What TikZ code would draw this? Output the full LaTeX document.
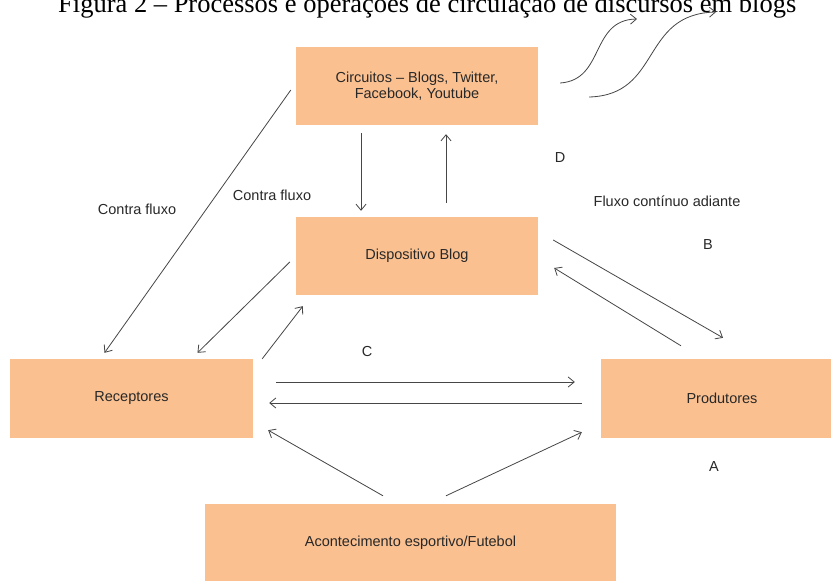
\documentclass[tikz,border=0pt]{standalone}
\usepackage{fontspec}
\setmainfont{Liberation Sans}
\newfontfamily\titlefont{Liberation Serif}
\usetikzlibrary{arrows.meta}
\definecolor{boxfill}{RGB}{250,192,144}
\definecolor{linecol}{RGB}{70,70,70}
\definecolor{txtcol}{RGB}{40,40,40}
\begin{document}
\begin{tikzpicture}[x=1pt,y=-1pt,
  box/.style={fill=boxfill, draw=none, inner sep=0pt, text=txtcol,
    font=\fontsize{14.5}{16.5}\selectfont, align=center},
  lab/.style={text=txtcol, font=\fontsize{14.5}{16.5}\selectfont, inner sep=0pt},
  conn/.style={draw=linecol, line width=0.8pt, -{Straight Barb[length=6pt,width=10pt]}}]
\clip (0,0) rectangle (831,583);
\fill[white] (0,0) rectangle (831,583);
\node[anchor=base west, inner sep=0pt, font=\titlefont\fontsize{26.5}{30}\selectfont] (title) at (58,13)
  {Figura 2 – Processos e operações de circulação de discursos em blogs};

\node[box, minimum width=242pt, minimum height=78pt] (circ) at (417,86) {Circuitos – Blogs, Twitter,\\Facebook, Youtube};
\node[box, minimum width=242pt, minimum height=78pt] (disp) at (417,256) {Dispositivo Blog};
\node[box, minimum width=243pt, minimum height=79pt] (rec) at (131.5,398.5) {Receptores};
\node[box, minimum width=242pt, minimum height=79pt] (prod) at (722,398.5) {Produtores};
\node[box, minimum width=411pt, minimum height=77pt] (acon) at (410.5,542.5) {Acontecimento esportivo/Futebol};

% connectors
\draw[conn] ([shift={(-5,4)}]circ.west) -- ([shift={(-27,-6)}]rec.north);
\draw[conn] ([shift={(-56,8)}]circ.south) -- ([shift={(-56,-6)}]disp.north);
\draw[conn] ([shift={(29,-14)}]disp.north) -- ([shift={(29,9)}]circ.south);
\draw[conn] ([shift={(-6,6)}]disp.west) -- ([shift={(66,-6)}]rec.north);
\draw[conn] ([shift={(9,0)}]rec.north east) -- ([shift={(7,11)}]disp.south west);
\draw[conn] ([shift={(15,-16)}]disp.east) -- ([shift={(1,-21)}]prod.north);
\draw[conn] ([shift={(-41,-13)}]prod.north) -- ([shift={(16,12)}]disp.east);
\draw[conn] ([shift={(23,-16.5)}]rec.east) -- ([shift={(-26,-16.5)}]prod.west);
\draw[conn] ([shift={(-19,4.5)}]prod.west) -- ([shift={(16,4.5)}]rec.east);
\draw[conn] ([shift={(-27.5,-8)}]acon.north) -- ([shift={(15,-8)}]rec.south east);
\draw[conn] ([shift={(35.5,-8)}]acon.north) -- ([shift={(-19,-6)}]prod.south west);

% wavy arrows
\coordinate (w1s) at ([shift={(22,-3)}]circ.east);
\coordinate (w1e) at (637,19);
\coordinate (w2s) at ([shift={(51,11)}]circ.east);
\coordinate (w2e) at (716,12);
\draw[conn] (w1s) .. controls (605,80) and (590,20) .. (w1e);
\draw[conn] (w2s) .. controls (662,95) and (640,14) .. (w2e);

% labels
\node[lab] (cf1) at (137,209) {Contra fluxo};
\node[lab] (cf2) at (272,195) {Contra fluxo};
\node[lab] (lD) at (560,158) {D};
\node[lab] (fca) at (667,201) {Fluxo contínuo adiante};
\node[lab] (lB) at (708,245) {B};
\node[lab] (lC) at (367,352) {C};
\node[lab] (lA) at (714,467) {A};
\end{tikzpicture}
\end{document}
